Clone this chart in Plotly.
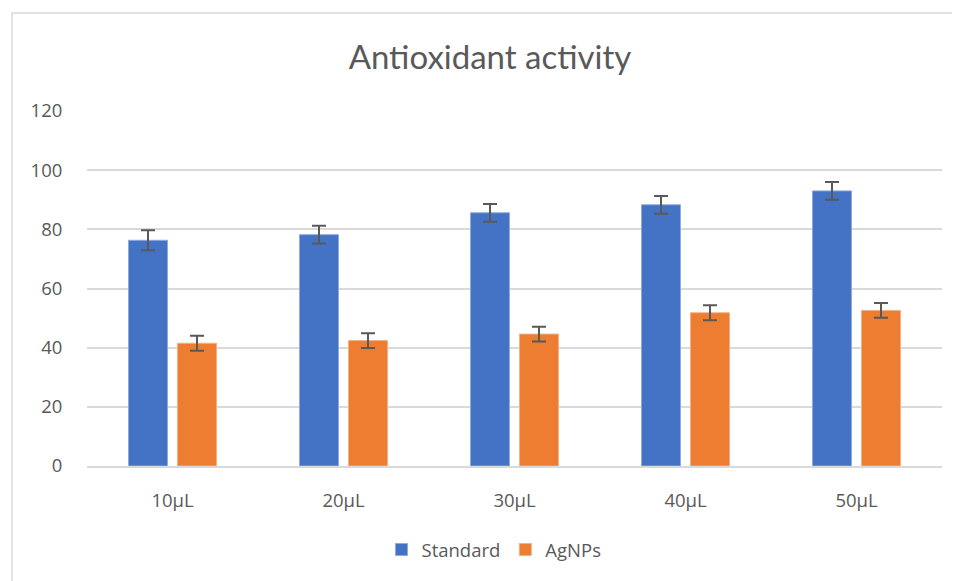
import plotly.graph_objects as go

categories = ["10µL", "20µL", "30µL", "40µL", "50µL"]
standard = [76.3, 78.2, 85.6, 88.3, 93.0]
standard_err = [3.4, 3.0, 3.0, 3.0, 3.0]
agnps = [41.5, 42.4, 44.6, 51.8, 52.6]
agnps_err = [2.5, 2.5, 2.5, 2.5, 2.5]
y_ticks = [0, 20, 40, 60, 80, 100, 120]

# page body has an 8px margin; figure fills the rest of the 960x581 window
OFF = 8
W, H = 960 - OFF, 581 - OFF
L, R, T, B = 87 - OFF, 18, 111 - OFF, 115
pw, ph = W - L - R, H - T - B

fig = go.Figure()
fig.add_trace(go.Bar(
    name="Standard", x=categories, y=standard,
    marker=dict(color="#4472c4", line=dict(color="#8faadc", width=1)),
    error_y=dict(type="data", array=standard_err, visible=True,
                 color="#595959", thickness=2, width=7),
))
fig.add_trace(go.Bar(
    name="AgNPs", x=categories, y=agnps,
    marker=dict(color="#ed7d31", line=dict(color="#f4b183", width=1)),
    error_y=dict(type="data", array=agnps_err, visible=True,
                 color="#595959", thickness=2, width=7),
))

tick_font = "'Open Sans', 'Noto Sans', sans-serif"
title_font = "Lato, 'Open Sans', sans-serif"
fig.update_layout(
    width=W, height=H,
    margin=dict(l=L, r=R, t=T, b=B, autoexpand=False),
    paper_bgcolor="white", plot_bgcolor="white",
    barmode="group", bargap=0.427, bargroupgap=0.204,
    title=dict(text="Antioxidant activity", x=(490 - OFF - L) / pw, xref="paper",
               xanchor="center", y=1 - (57 - OFF) / H, yanchor="middle",
               font=dict(family=title_font, size=33, color="#595959")),
    font=dict(family=tick_font, size=18, color="#595959"),
    showlegend=True,
    legend=dict(orientation="h", x=(494 - 8 - L) / pw, xanchor="center",
                y=-(550 - 466) / ph, yanchor="middle",
                font=dict(family=tick_font, size=18.5, color="#595959"),
                itemwidth=30, tracegroupgap=0),
    xaxis=dict(showgrid=False, showline=True, linecolor="#d9d9d9", linewidth=1.5,
               ticks="outside", ticklen=17, tickcolor="rgba(0,0,0,0)",
               tickfont=dict(size=18.5, color="#595959")),
    yaxis=dict(range=[0, 120], tickvals=y_ticks, showgrid=True,
               gridcolor="#d9d9d9", gridwidth=1.5, zeroline=False,
               showline=False, ticks="outside", ticklen=20,
               tickcolor="rgba(0,0,0,0)",
               tickfont=dict(size=18.5, color="#595959")),
)

fig.add_shape(type="rect", xref="paper", yref="paper",
              x0=(12 - 87) / pw, x1=(958 - 87) / pw,
              y0=-(H + 40) / ph, y1=(466 - 13) / ph,
              line=dict(color="#d9d9d9", width=1.5), fillcolor="rgba(0,0,0,0)",
              layer="below")

fig.write_html("out.html")
